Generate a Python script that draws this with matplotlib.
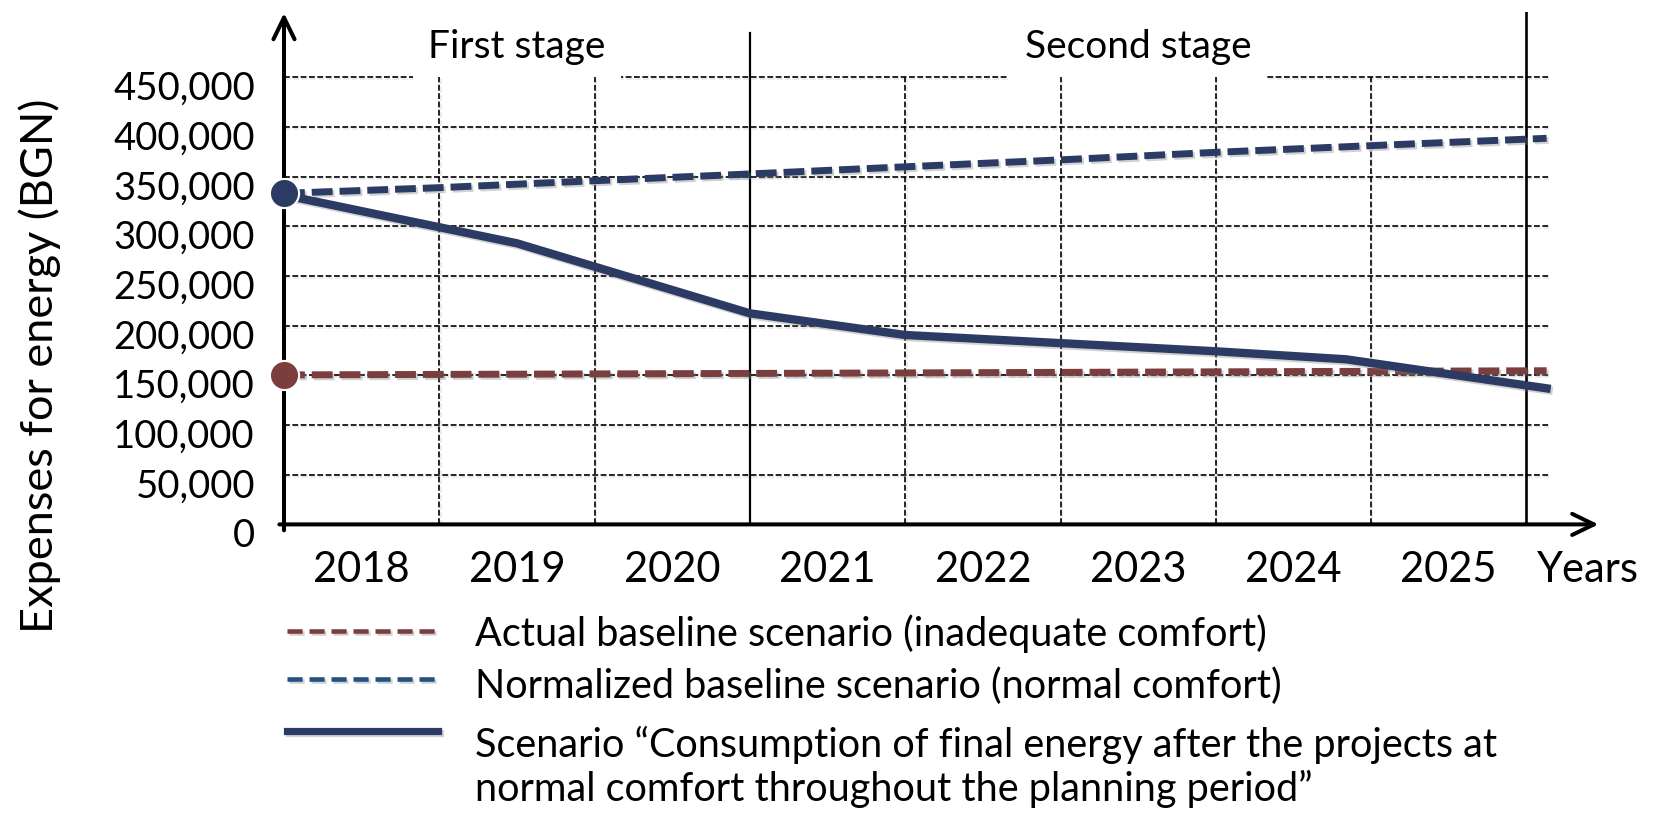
import matplotlib
matplotlib.use("Agg")
import matplotlib.pyplot as plt
import matplotlib.patheffects as pe
from matplotlib.lines import Line2D
from matplotlib.transforms import ScaledTranslation

plt.rcParams['font.family'] = ['Lato', 'DejaVu Sans']

# categories (each year is one column; x = start of the year column)
years = [2018, 2019, 2020, 2021, 2022, 2023, 2024, 2025]
y_ticks = [0, 50000, 100000, 150000, 200000, 250000, 300000, 350000, 400000, 450000]

# series (x in fractional years)
actual_x = [2018.0, 2020.0, 2022.0, 2024.0, 2026.13]
actual_y = [150500, 151500, 152500, 153600, 154700]

normal_x = [2018.0, 2019.0, 2020.0, 2021.0, 2022.0, 2023.0, 2024.0, 2025.0, 2026.13]
normal_y = [333300, 339000, 346000, 352800, 360000, 367000, 374600, 381300, 388700]

scenario_x = [2018.0, 2019.5, 2021.0, 2022.0, 2024.0, 2024.84, 2026.13]
scenario_y = [331600, 283000, 212500, 190700, 174300, 166200, 137000]

stages = ["First stage", "Second stage"]
stage_bounds = [2018, 2021, 2026]

legend_labels = [
    "Actual baseline scenario (inadequate comfort)",
    "Normalized baseline scenario (normal comfort)",
    "Scenario \u201cConsumption of final energy after the projects at\nnormal comfort throughout the planning period\u201d",
]

NAVY = "#2c3b63"
BROWN = "#7b3e3e"
LEG_BLUE = "#245280"

W, H = 1656, 815
fig = plt.figure(figsize=(W / 100, H / 100), dpi=100)
fig.patch.set_facecolor("white")


def fx(px):
    return px / W


def fy(py):
    return 1 - py / H


# axes: y-axis at x=284px, zero at y=524px
ax = fig.add_axes([fx(284), fy(524.4), fx(1600) - fx(284), fy(12) - fy(524.4)])
ax.set_xlim(2018, 2018 + (1600 - 284) / 155.3)
ax.set_ylim(0, (524.4 - 12) / 0.9933 * 1000)
for s in ax.spines.values():
    s.set_visible(False)
ax.set_xticks([])
ax.patch.set_alpha(0)

shadow = [pe.SimpleLineShadow(offset=(1.5, -1.5), shadow_color="gray", alpha=0.35), pe.Normal()]
gshadow = [pe.SimpleLineShadow(offset=(1, -1.5), shadow_color="gray", alpha=0.18), pe.Normal()]

grid_end = 2018 + (1550 - 284) / 155.3
# horizontal grid
for v in y_ticks[1:]:
    ax.plot([2018, grid_end], [v, v], color="black", lw=1.2, ls=(0, (3.5, 1.5)),
            zorder=2, path_effects=gshadow)

# vertical grid: dashed between years, solid at stage boundaries
for yr in years[1:]:
    if yr in stage_bounds:
        continue
    ax.plot([yr, yr], [0, 450000], color="black", lw=1.2, ls=(0, (3.5, 1.5)),
            zorder=3, path_effects=gshadow)
ax.plot([2021, 2021], [0, 495000], color="black", lw=1.6, zorder=3)
ax.plot([2026, 2026], [0, 518000], color="black", lw=1.9, zorder=3)

# stage labels
for i, name in enumerate(stages):
    cx = (stage_bounds[i] + stage_bounds[i + 1]) / 2
    ax.text(cx, 470000, name, ha="center", va="baseline", fontsize=28, zorder=2.5,
            bbox=dict(boxstyle="square,pad=0.4", fc="white", ec="none"))

# data lines
ax.plot(actual_x, actual_y, color=BROWN, lw=5, ls=(0, (3.0, 1.0)), zorder=5,
        path_effects=shadow)
ax.plot(normal_x, normal_y, color=NAVY, lw=5, ls=(0, (3.0, 1.0)), zorder=5,
        path_effects=shadow)
ax.plot(scenario_x, scenario_y, color=NAVY, lw=6, zorder=6, path_effects=shadow,
        solid_joinstyle="round")

# axes with arrows
arrow = dict(arrowstyle="->,head_length=0.78,head_width=0.38", lw=2.9, color="black",
             shrinkA=0, shrinkB=0, mutation_scale=20)
ax.annotate("", xy=(2018, ax.get_ylim()[1] - 1000), xytext=(2018, -6000),
            arrowprops=arrow, annotation_clip=False, zorder=8)
ax.annotate("", xy=(ax.get_xlim()[1] - 0.01, 0), xytext=(2017.97, 0),
            arrowprops=arrow, annotation_clip=False, zorder=8)

# start markers sit on top of the axis
ax.plot(actual_x[0], actual_y[0], "o", ms=21, color=BROWN, mec="white", mew=1.5,
        zorder=9, clip_on=False)
ax.plot(normal_x[0], normal_y[0], "o", ms=21, color=NAVY, mec="white", mew=1.5,
        zorder=9, clip_on=False)

# y ticks
ax.set_yticks(y_ticks)
ax.set_yticklabels([f"{v:,}" for v in y_ticks], fontsize=27.5)
ax.tick_params(axis="y", length=0, pad=21)
for lab in ax.get_yticklabels():
    lab.set_transform(lab.get_transform() + ScaledTranslation(0, -0.08, fig.dpi_scale_trans))

# x labels at column centers
for yr in years:
    ax.annotate(str(yr), xy=(yr + 0.5, 0), xytext=(0, -33), textcoords="offset points",
                ha="center", va="center", fontsize=30, annotation_clip=False)
ax.annotate("Years", xy=(2026.07, 0), xytext=(0, -33), textcoords="offset points",
            ha="left", va="center", fontsize=30, annotation_clip=False)

fig.text(fx(40), fy(366), "Expenses for energy (BGN)", rotation=90, ha="center",
         va="center", fontsize=32.5)

# legend (drawn by hand so the wrapped label lines up like the original)
leg_rows = [
    dict(color=BROWN, lw=3.3, ls=(0, (3.3, 1.5)), y=630.5),
    dict(color=LEG_BLUE, lw=3.3, ls=(0, (3.3, 1.5)), y=679),
    dict(color=NAVY, lw=5.2, ls="-", y=731),
]
text_y = [634, 686.5, 767]
for row, lab, ty in zip(leg_rows, legend_labels, text_y):
    fig.add_artist(Line2D([fx(287), fx(438)], [fy(row["y"]), fy(row["y"])],
                          color=row["color"], lw=row["lw"], ls=row["ls"],
                          path_effects=shadow))
    fig.text(fx(475), fy(ty), lab, ha="left", va="center", fontsize=28.5,
             linespacing=1.2)

fig.savefig("out.png", dpi=100, facecolor="white")
